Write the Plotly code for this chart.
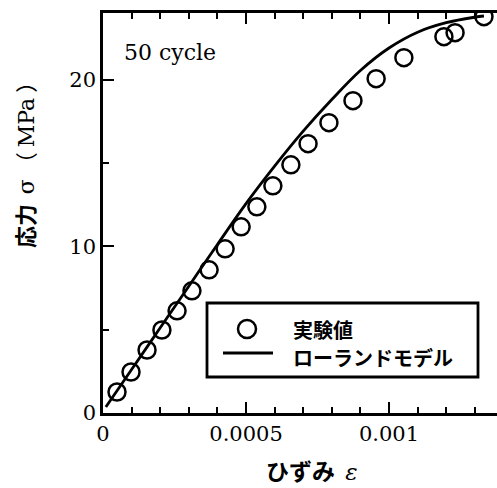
import plotly.graph_objects as go

# Measured stress-strain points (50 cycles)
strain_exp = [0.49e-4, 0.98e-4, 1.54e-4, 2.06e-4, 2.59e-4, 3.11e-4, 3.71e-4,
              4.27e-4, 4.83e-4, 5.38e-4, 5.94e-4, 6.57e-4, 7.17e-4, 7.90e-4,
              8.74e-4, 9.55e-4, 10.52e-4, 11.92e-4, 12.31e-4, 13.32e-4]
stress_exp = [1.26, 2.46, 3.78, 4.98, 6.13, 7.33, 8.59,
              9.85, 11.17, 12.37, 13.63, 14.89, 16.16, 17.42,
              18.74, 20.06, 21.32, 22.58, 22.82, 23.78]

# Ramberg-Osgood model curve
strain_model = [0.10e-4, 1e-4, 2e-4, 3e-4, 4e-4, 5e-4, 6e-4, 7e-4, 8e-4,
                9e-4, 10e-4, 11e-4, 12e-4, 13e-4, 13.32e-4]
stress_model = [0.36, 2.61, 5.11, 7.61, 10.11, 12.56, 14.81, 16.91, 18.81,
                20.55, 21.90, 22.85, 23.42, 23.75, 23.82]

x_tickvals = [0, 0.0005, 0.001]
x_ticktext = ["0", "0.0005", "0.001"]
y_tickvals = [0, 10, 20]
y_ticktext = ["0", "10", "20"]

legend_labels = ["実験値", "ローランドモデル"]

W, H = 497, 488
L, R, T, B = 103, 0, 13, 75
PW, PH = W - L - R, H - T - B


def px(x):
    return (x - L) / PW


def py(y):
    return (H - B - y) / PH


SERIF = "DejaVu Serif"
JP = "Noto Sans CJK JP"

fig = go.Figure()

fig.add_trace(go.Scatter(
    x=strain_model, y=stress_model, mode="lines",
    line=dict(color="black", width=2.8, shape="spline", smoothing=1.0),
    name=legend_labels[1], showlegend=False,
))
fig.add_trace(go.Scatter(
    x=strain_exp, y=stress_exp, mode="markers",
    marker=dict(symbol="circle-open", size=17, color="black",
                line=dict(width=2.5, color="black")),
    name=legend_labels[0], showlegend=False,
))

fig.update_layout(
    width=W, height=H,
    margin=dict(l=L, r=R, t=T, b=B, pad=0),
    paper_bgcolor="white", plot_bgcolor="white",
    font=dict(family=SERIF, size=21, color="black"),
    xaxis=dict(
        range=[0, PW / 286000.0], showgrid=False, zeroline=False,
        showline=True, linecolor="black", linewidth=2.6, mirror="ticks",
        ticks="inside", ticklen=11, tickwidth=2, tickcolor="black",
        tickvals=x_tickvals, ticktext=x_ticktext,
        tickfont=dict(family=SERIF, size=21),
        minor=dict(dtick=0.0001, ticks="inside", ticklen=6, tickwidth=1.5,
                   tickcolor="black", showgrid=False),
    ),
    yaxis=dict(
        range=[0, 24], showgrid=False, zeroline=False,
        showline=True, linecolor="black", linewidth=2.6,
        ticks="inside", ticklen=11, tickwidth=2, tickcolor="black",
        tickvals=y_tickvals, ticktext=y_ticktext,
        tickfont=dict(family=SERIF, size=21),
        minor=dict(dtick=5, ticks="inside", ticklen=6, tickwidth=1.5,
                   tickcolor="black", showgrid=False),
    ),
    yaxis2=dict(
        range=[0, 24], overlaying="y", side="right", anchor="x",
        showgrid=False, zeroline=False, showline=False,
        ticks="inside", ticklen=10, tickwidth=2, tickcolor="black",
        tickvals=y_tickvals + [5, 15], showticklabels=False,
    ),
    showlegend=False,
)

annotations = [
    dict(x=px(122), y=py(52), xref="paper", yref="paper", xanchor="left",
         yanchor="middle", text="50 cycle", showarrow=False,
         font=dict(family=SERIF, size=22)),
    dict(x=px(312), y=py(470), xref="paper", yref="paper", xanchor="center",
         yanchor="middle", showarrow=False,
         text="<b>ひずみ</b>&nbsp;&nbsp;<i><span style='font-family:DejaVu Serif'>ε</span></i>",
         font=dict(family=JP, size=23)),
    dict(x=px(24), y=py(160), xref="paper", yref="paper", xanchor="center",
         yanchor="middle", showarrow=False, textangle=-90,
         text="<b>応力</b>&nbsp;&nbsp;<span style='font-family:DejaVu Serif'>σ</span>"
              "&nbsp;（&nbsp;<span style='font-family:DejaVu Serif'>MPa</span>&nbsp;）",
         font=dict(family=JP, size=22)),
    dict(x=px(291), y=py(329), xref="paper", yref="paper", xanchor="left",
         yanchor="middle", showarrow=False,
         text="<b>" + legend_labels[0] + "</b>",
         font=dict(family=JP, size=20)),
    dict(x=px(291), y=py(357), xref="paper", yref="paper", xanchor="left",
         yanchor="middle", showarrow=False,
         text="<b>" + legend_labels[1] + "</b>",
         font=dict(family=JP, size=20)),
]

shapes = [
    # legend frame
    dict(type="rect", xref="paper", yref="paper",
         x0=px(207), x1=px(478), y0=py(377), y1=py(303),
         line=dict(color="black", width=2.8), fillcolor="white", layer="above"),
    # legend symbol: open circle
    dict(type="circle", xref="paper", yref="paper",
         x0=px(238), x1=px(256), y0=py(338), y1=py(320),
         line=dict(color="black", width=2.5), layer="above"),
    # legend symbol: line
    dict(type="line", xref="paper", yref="paper",
         x0=px(223), x1=px(273), y0=py(353), y1=py(353),
         line=dict(color="black", width=2.8), layer="above"),
]

fig.update_layout(annotations=annotations, shapes=shapes)

fig.write_html("out.html")
